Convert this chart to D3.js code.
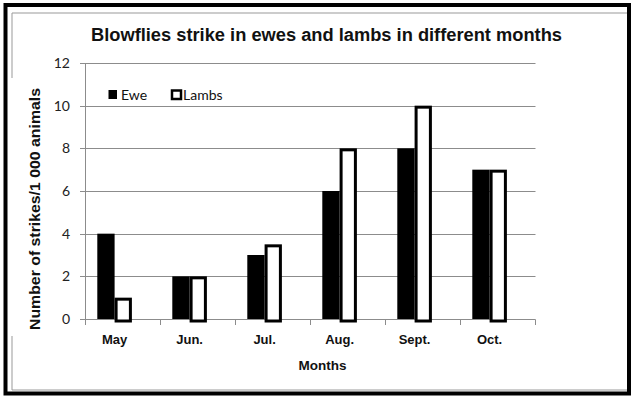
<!DOCTYPE html>
<html><head><meta charset="utf-8">
<script src="https://cdn.jsdelivr.net/npm/d3@7"></script>
<style>body{margin:0;background:#fff}svg{display:block}</style>
</head><body>
<script>
const months = ["May", "Jun.", "Jul.", "Aug.", "Sept.", "Oct."];
const ewe = [4, 2, 3, 6, 8, 7];
const lambs = [1, 2, 3.5, 8, 10, 7];
const yTicks = [0, 2, 4, 6, 8, 10, 12];
const seriesNames = ["Ewe", "Lambs"];

const W = 637, H = 400;
const svg = d3.select("body").append("svg").attr("width", W).attr("height", H);
const arial = "'Liberation Sans', Arial, sans-serif";
const cal = "Lato, 'Open Sans', sans-serif";

// frames
svg.append("path").attr("d", "M12,78 V13 H627 M12,336 V390 H627")
  .attr("fill", "none").attr("stroke", "#999").attr("stroke-width", 1);
svg.append("rect").attr("x", 5.5).attr("y", 5).attr("width", 623.5).attr("height", 388.5)
  .attr("fill", "none").attr("stroke", "#000").attr("stroke-width", 4);

const x = d3.scaleBand().domain(months).range([85, 535]);
const y = d3.scaleLinear().domain([0, 12]).range([319, 63]);

// gridlines
const g = svg.append("g");
g.selectAll("line.grid").data(yTicks).join("line")
  .attr("x1", 80).attr("x2", 535.5)
  .attr("y1", d => Math.round(y(d)) + 0.5).attr("y2", d => Math.round(y(d)) + 0.5)
  .attr("stroke", "#8c8c8c").attr("stroke-width", 1);

// y axis line
svg.append("line").attr("x1", 85.5).attr("x2", 85.5).attr("y1", 63).attr("y2", 320)
  .attr("stroke", "#8c8c8c");

// x ticks
const bounds = d3.range(months.length + 1).map(i => 85 + i * x.bandwidth());
svg.selectAll("line.xt").data(bounds).join("line")
  .attr("x1", d => Math.round(d) + 0.5).attr("x2", d => Math.round(d) + 0.5)
  .attr("y1", 319.5).attr("y2", 325).attr("stroke", "#8c8c8c");

// y tick labels
svg.selectAll("text.yt").data(yTicks).join("text")
  .attr("x", 70).attr("y", d => y(d) + 5)
  .attr("text-anchor", "end").attr("font-family", cal).attr("font-size", 14)
  .attr("fill", "#222").text(d => d);

// bars
const bw = 17.3;
const off = 12.3;
svg.selectAll("rect.ewe").data(months).join("rect")
  .attr("x", d => x(d) + off).attr("width", bw)
  .attr("y", (d, i) => y(ewe[i])).attr("height", (d, i) => y(0) - y(ewe[i]))
  .attr("fill", "#000");
svg.selectAll("rect.lamb").data(months).join("rect")
  .attr("x", d => x(d) + off + bw + 1.5).attr("width", bw - 3)
  .attr("y", (d, i) => y(lambs[i]) + 1.5).attr("height", (d, i) => y(0) - y(lambs[i]) + 0.5)
  .attr("fill", "#fff").attr("stroke", "#000").attr("stroke-width", 3);

// x labels
svg.selectAll("text.xl").data(months).join("text")
  .attr("x", d => x(d) + off + bw).attr("y", 344)
  .attr("text-anchor", "middle").attr("font-family", arial).attr("font-weight", "bold")
  .attr("font-size", 13).attr("fill", "#111").text(d => d);

// axis titles
svg.append("text").attr("x", 322.5).attr("y", 369.5).attr("text-anchor", "middle")
  .attr("font-family", arial).attr("font-weight", "bold").attr("font-size", 13.5)
  .attr("fill", "#111").text("Months");
svg.append("text").attr("transform", "translate(40,209) rotate(-90)")
  .attr("text-anchor", "middle").attr("font-family", arial).attr("font-weight", "bold")
  .attr("font-size", 14).attr("fill", "#111")
  .attr("textLength", 242).attr("lengthAdjust", "spacingAndGlyphs")
  .text("Number of strikes/1 000 animals");

// title
svg.append("text").attr("x", 91).attr("y", 40.7)
  .attr("font-family", arial).attr("font-weight", "bold").attr("font-size", 17.5)
  .attr("fill", "#111").attr("textLength", 471).attr("lengthAdjust", "spacingAndGlyphs")
  .text("Blowflies strike in ewes and lambs in different months");

// legend
const leg = svg.append("g");
leg.append("rect").attr("x", 108.5).attr("y", 90).attr("width", 8.5).attr("height", 9).attr("fill", "#000");
leg.append("text").attr("x", 121).attr("y", 99.5).attr("font-family", cal).attr("font-size", 14)
  .attr("fill", "#111").text(seriesNames[0]);
leg.append("rect").attr("x", 172).attr("y", 90.5).attr("width", 9).attr("height", 8.5)
  .attr("fill", "#fff").attr("stroke", "#000").attr("stroke-width", 2.5);
leg.append("text").attr("x", 183).attr("y", 99.5).attr("font-family", cal).attr("font-size", 14)
  .attr("fill", "#111").text(seriesNames[1]);
</script>
</body></html>
